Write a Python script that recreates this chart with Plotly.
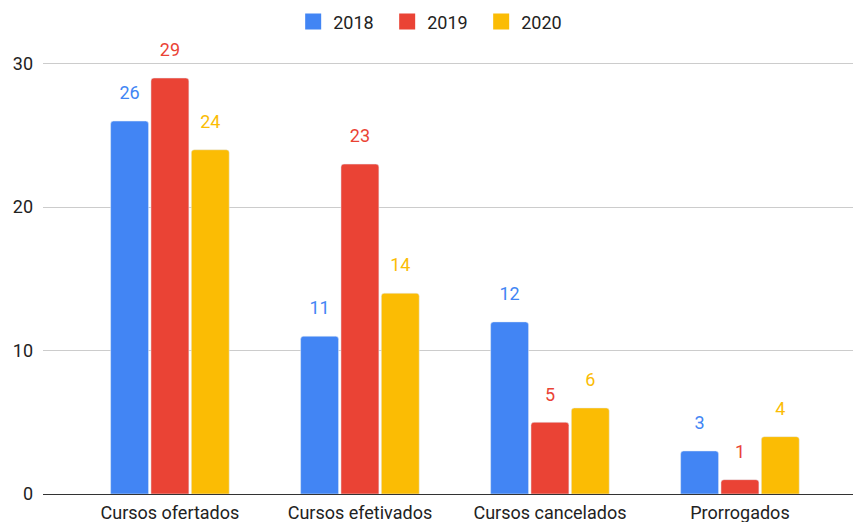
import plotly.graph_objects as go

categories = ["Cursos ofertados", "Cursos efetivados", "Cursos cancelados", "Prorrogados"]
series_names = ["2018", "2019", "2020"]
values_2018 = [26, 11, 12, 3]
values_2019 = [29, 23, 5, 1]
values_2020 = [24, 14, 6, 4]
colors = ["#4285F4", "#EA4335", "#FBBC04"]
y_ticks = [0, 10, 20, 30]

series_values = [values_2018, values_2019, values_2020]

fig = go.Figure()
for name, vals, col in zip(series_names, series_values, colors):
    fig.add_trace(go.Bar(
        x=categories, y=vals, name=name, marker_color=col,
        offsetgroup=name, showlegend=False, hoverinfo="skip",
    ))
for name, vals, col in zip(series_names, series_values, colors):
    # value labels floated above each bar
    fig.add_trace(go.Scatter(
        x=categories, y=vals, mode="markers+text", text=[str(v) for v in vals],
        textposition="top center", textfont=dict(color=col, size=18, family="Roboto"),
        marker=dict(size=26, opacity=0, color=col), offsetgroup=name,
        showlegend=False, hoverinfo="skip", cliponaxis=False,
    ))
for name, col in zip(series_names, colors):
    # legend entries with square swatches
    fig.add_trace(go.Scatter(
        x=[None], y=[None], mode="markers", name=name,
        marker=dict(symbol="square", size=17, color=col),
    ))

fig.update_layout(
    width=853, height=522,
    margin=dict(l=43, r=0, t=35, b=28, autoexpand=False),
    paper_bgcolor="white", plot_bgcolor="white",
    font=dict(family="Roboto", size=18, color="#222222"),
    barmode="group", scattermode="group",
    bargap=0.363, bargroupgap=0.06, barcornerradius=3,
    legend=dict(orientation="h", xref="container", yref="container",
                x=0.509, xanchor="center", y=0.958, yanchor="middle",
                entrywidth=49, entrywidthmode="pixels",
                font=dict(size=18, color="#222222"), itemclick=False),
    xaxis=dict(type="category", range=[-0.668, 3.595], showgrid=False,
               showline=False, ticks="", automargin=False, ticklabelstandoff=6,
               tickfont=dict(size=18, color="#222222")),
    yaxis=dict(range=[0, 32], tickvals=y_ticks, showgrid=True, gridcolor="#cccccc",
               gridwidth=1, zeroline=True, zerolinecolor="#333333", zerolinewidth=1,
               ticks="", automargin=False, ticklabelstandoff=9,
               tickfont=dict(size=18, color="#222222")),
)

fig.write_html("out.html")
